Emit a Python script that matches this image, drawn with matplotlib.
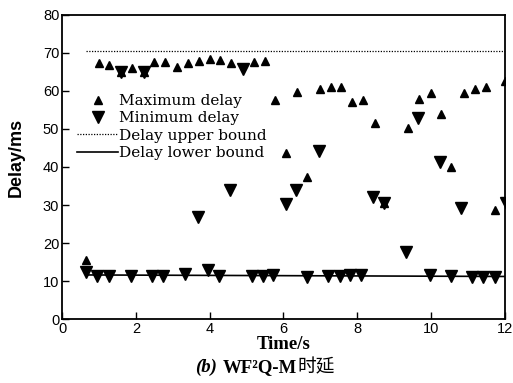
import matplotlib
matplotlib.use("Agg")
import matplotlib.pyplot as plt
from matplotlib.transforms import offset_copy

# --- DATA ---
max_t = [0.65, 0.99, 1.28, 1.59, 1.89, 2.21, 2.50, 2.79, 3.12, 3.40, 3.71, 4.01,
         4.29, 4.59, 5.20, 5.50, 5.76, 6.07, 6.36, 6.65, 6.98, 7.28, 7.57, 7.87,
         8.16, 8.48, 8.73, 9.37, 9.68, 10.0, 10.27, 10.53, 10.89, 11.18, 11.48,
         11.73, 12.0]
max_delay = [15.5, 67.4, 66.7, 65.0, 66.1, 65.0, 67.6, 67.6, 66.4, 67.3, 67.9, 68.3,
             68.2, 67.3, 67.5, 67.9, 57.6, 43.8, 59.8, 37.4, 60.6, 61.1, 61.1, 57.2,
             57.6, 51.7, 30.6, 50.3, 57.9, 59.4, 54.0, 39.9, 59.4, 60.4, 61.1,
             28.7, 62.6]

min_t = [0.65, 0.96, 1.26, 1.59, 1.86, 2.21, 2.43, 2.73, 3.33, 3.68, 3.96, 4.26,
         4.55, 4.90, 5.14, 5.44, 5.73, 6.06, 6.34, 6.63, 6.96, 7.22, 7.52, 7.80,
         8.09, 8.42, 8.73, 9.31, 9.66, 9.96, 10.24, 10.53, 10.80, 11.11, 11.42,
         11.73, 12.03]
min_delay = [12.3, 11.3, 11.3, 65.0, 11.3, 65.0, 11.3, 11.3, 11.8, 26.9, 12.8, 11.3,
             34.0, 65.8, 11.3, 11.3, 11.6, 30.3, 34.0, 11.0, 44.2, 11.3, 11.3, 11.6,
             11.6, 32.2, 30.6, 17.7, 52.8, 11.6, 41.2, 11.3, 29.1, 11.1, 11.1,
             11.1, 30.6]

bound_t = [0.65, 12.0]
upper_bound = [70.5, 70.5]
lower_bound = [11.6, 11.2]

x_ticks = [0, 2, 4, 6, 8, 10, 12]
y_ticks = [0, 10, 20, 30, 40, 50, 60, 70, 80]

serif = ['Liberation Serif', 'Noto Sans CJK SC', 'DejaVu Serif']
sans = 'Liberation Sans'

fig = plt.figure(figsize=(5.13, 3.83), dpi=100)
ax = fig.add_axes([0.121, 0.167, 0.863, 0.794])

ax.plot(max_t, max_delay, linestyle='none', marker='^', color='black',
        markersize=5.5, label='Maximum delay', zorder=3)
ax.plot(min_t, min_delay, linestyle='none', marker='v', color='black',
        markersize=8, label='Minimum delay', zorder=3)
ax.plot(bound_t, upper_bound, color='black', linestyle=(0, (1, 1.2)),
        linewidth=0.9, label='Delay upper bound')
ax.plot(bound_t, lower_bound, color='black', linestyle='-',
        linewidth=1.2, label='Delay lower bound')

ax.set_xlim(0, 12)
ax.set_ylim(0, 80)
ax.set_xticks(x_ticks)
ax.set_yticks(y_ticks)
ax.tick_params(direction='in', length=5, width=1, labelsize=10.5, pad=2)
for lbl in ax.get_xticklabels() + ax.get_yticklabels():
    lbl.set_family(sans)
for s in ax.spines.values():
    s.set_linewidth(1.3)

ax.set_xlabel('Time/s', family=serif, fontweight='bold', fontsize=13.5, labelpad=0)
ax.set_ylabel('Delay/ms', family=sans, fontweight='bold', fontsize=13)
ax.yaxis.set_label_coords(-0.085, 0.53)

leg = ax.legend(loc='upper left', bbox_to_anchor=(0.01, 0.775), frameon=False,
                prop={'family': 'DejaVu Serif', 'size': 11}, handlelength=2.7,
                handletextpad=0.05, labelspacing=0.22, borderpad=0.2)

# caption: italic "(b)", bold latin part, plain Chinese part, laid out one after another
parts = [('(b)', 'italic', 'bold', 6),
         ('WF²Q-M', 'normal', 'bold', 0),
         ('时延', 'normal', 'normal', 0)]
renderer = fig.canvas.get_renderer()
x0, y0 = 195 / 513, 0.018
trans = fig.transFigure
for txt, st, wt, gap in parts:
    t = fig.text(x0, y0, txt, ha='left', va='bottom', family=serif, style=st,
                 fontweight=wt, fontsize=13.5, transform=trans)
    w = t.get_window_extent(renderer).width
    trans = offset_copy(trans, fig=fig, x=w + gap, y=0, units='dots')

fig.savefig('out.png', dpi=100)
